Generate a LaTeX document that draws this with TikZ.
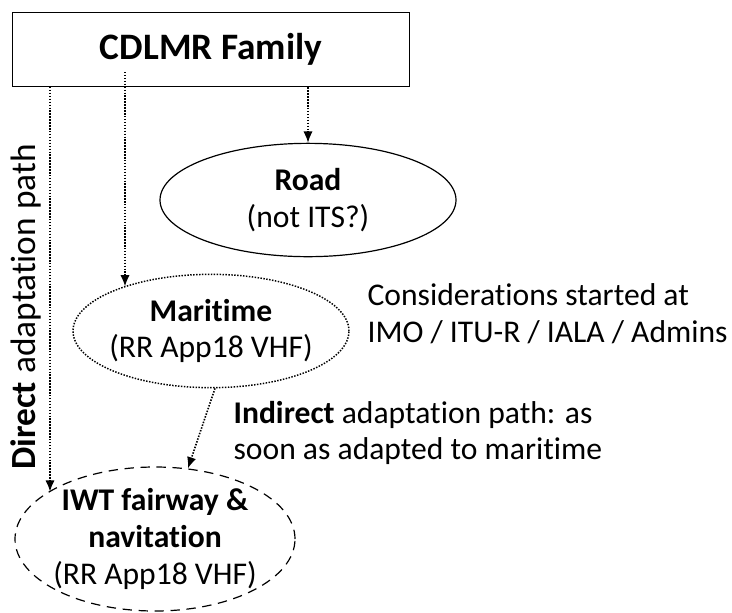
\documentclass[tikz,border=0pt]{standalone}
\usepackage{fontspec}
\setmainfont{Carlito}[Ligatures=NoCommon]
\usetikzlibrary{arrows.meta,shapes.geometric}

\begin{document}
\begin{tikzpicture}[x=.75pt,y=-.75pt,>={Latex[length=8.5pt,width=7pt]},
  line width=.9pt,
  txt/.style={font=\fontsize{23.7}{27.5}\selectfont,align=center,inner sep=0pt},
  oval/.style={ellipse,draw,txt,inner sep=-10pt},
  flow/.style={->,dash pattern=on 1.1pt off 1.1pt,line width=1.2pt}]
\useasboundingbox (0,0) rectangle (732,612);
\node[draw,minimum width=298pt,minimum height=56pt,font=\fontsize{28}{32}\selectfont\bfseries] (family) at (211,49.5) {CDLMR Family};
\node[oval,minimum width=222pt,minimum height=85pt] (road) at (308,200) {\textbf{Road}\\(not ITS?)};
\node[oval,dash pattern=on 1.1pt off 1.1pt,line width=1.1pt,minimum width=207pt,minimum height=85pt] (mar) at (211,331) {\textbf{Maritime}\\(RR App18 VHF)};
\node[oval,dash pattern=on 7pt off 5pt,minimum width=210pt,minimum height=108pt] (iwt) at (155,539) {\textbf{IWT fairway \&}\\\textbf{navitation}\\(RR App18 VHF)};
\node[txt,align=left,anchor=west] (cons) at (367,314) {Considerations started at\\IMO / ITU-R / IALA / Admins};
\node[txt,align=left,anchor=west] (indir) at (233,433) {\textbf{Indirect} adaptation path: as\\soon as adapted to maritime};
\node[txt,font=\fontsize{26.5}{30}\selectfont,rotate=90] (direct) at (26,307) {\textbf{Direct} adaptation path};

\coordinate (dstart) at (50,87);
\coordinate (mstart) at (125,72);
\draw[flow] (family.south -| road.north) -- (road.north);
\draw[flow] (mstart) -- (mstart |- mar.153);
\draw[flow] (dstart) -- (dstart |- iwt.156);
\draw[flow] (mar.-86) -- (iwt.65);
\end{tikzpicture}
\end{document}
